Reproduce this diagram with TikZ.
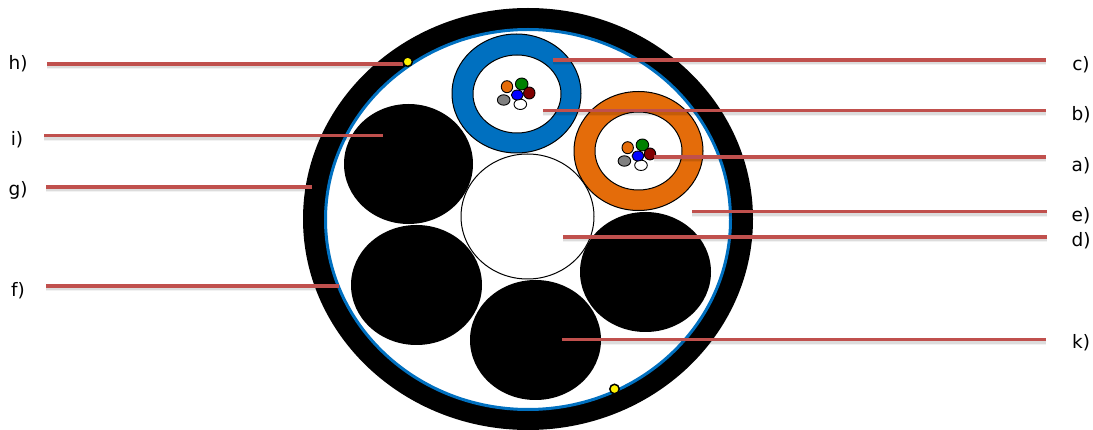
\documentclass[tikz,border=0pt]{standalone}
\usepackage{fontspec}
\setmainfont{DejaVu Sans}
\definecolor{cableblue}{RGB}{0,112,192}
\definecolor{tubeorange}{RGB}{228,108,10}
\definecolor{leader}{RGB}{192,80,77}
\definecolor{fibgreen}{RGB}{0,128,0}
\definecolor{fibred}{RGB}{128,0,0}
\tikzset{
  leaderline/.style={
    preaction={draw=black,opacity=.05,line width=6pt,transform canvas={yshift=-2.5pt}},
    preaction={draw=black,opacity=.09,line width=3.5pt,transform canvas={yshift=-2.5pt}},
    draw=leader,line width=3.6pt},
  lab/.style={font=\fontsize{18.5}{20}\selectfont,inner sep=0pt,text=black,anchor=center},
  fibre/.style={draw=black,line width=.9pt},
  tube/.style={draw=black,line width=1pt},
  marker/.style={fill=yellow,draw=black,line width=1.5pt}
}
\newcommand{\fibres}[2]{%
  \begin{scope}[shift={(#1,#2)}]
    \filldraw[fibre,fill=tubeorange] (507,86.7) ellipse [x radius=5.7,y radius=6];
    \filldraw[fibre,fill=fibgreen] (521.7,84) ellipse [x radius=6.3,y radius=6];
    \filldraw[fibre,fill=fibred] (529.3,93) ellipse [x radius=5.7,y radius=6];
    \filldraw[fibre,fill=gray] (503.7,100) ellipse [x radius=6.3,y radius=5.2];
    \filldraw[fibre,fill=white] (520.3,104.3) ellipse [x radius=6.3,y radius=5.2];
    \filldraw[fibre,fill=blue] (517.3,95) ellipse [x radius=6,y radius=5];
  \end{scope}}
\begin{document}
\begin{tikzpicture}[x=1pt,y=-1pt]
\useasboundingbox (0,0) rectangle (1093,430);
\begin{scope}
\clip (0,0) rectangle (1093,430);
\fill[black] (528,219) ellipse [x radius=225,y radius=211];
\filldraw[draw=cableblue,line width=3pt,fill=white] (528,219.5) ellipse [x radius=202.5,y radius=190];
\end{scope}
% blue tube
\filldraw[tube,fill=cableblue] (516.5,93.5) ellipse [x radius=64.5,y radius=59.5];
\filldraw[tube,fill=white] (517,94) ellipse [x radius=44,y radius=39];
\fibres{0}{0}
% orange tube
\filldraw[tube,fill=tubeorange] (638.5,151) ellipse [x radius=64.5,y radius=59.5];
\filldraw[tube,fill=white] (638.5,151) ellipse [x radius=43.5,y radius=39];
\fibres{120.7}{61}
% black elements
\fill[black] (408.5,164) ellipse [x radius=64.5,y radius=60];
\fill[black] (416.5,285) ellipse [x radius=65.5,y radius=60];
\fill[black] (535.5,340) ellipse [x radius=65.5,y radius=60];
\fill[black] (645.5,272) ellipse [x radius=65.5,y radius=60];
% centre
\filldraw[tube,fill=white] (527.5,216.5) ellipse [x radius=66.5,y radius=62.5];
% labels
\node[lab] (h) at (18,64) {h)};
\node[lab] (i) at (17,140) {i)};
\node[lab] (g) at (18,190) {g)};
\node[lab] (f) at (18,291) {f)};
\node[lab] (c) at (1081,65) {c)};
\node[lab] (b) at (1081,115) {b)};
\node[lab] (a) at (1081,166) {a)};
\node[lab] (e) at (1081,216) {e)};
\node[lab] (d) at (1081,241) {d)};
\node[lab] (k) at (1081,343) {k)};
% leader ends
\coordinate (hs) at (47,64); \coordinate (he) at (403,64);
\coordinate (is) at (44,135.5); \coordinate (ie) at (383,135.5);
\coordinate (gs) at (46,187); \coordinate (ge) at (312,187);
\coordinate (fs) at (46,286); \coordinate (fe) at (339,286);
\coordinate (cs) at (1046,60); \coordinate (ce) at (553,60);
\coordinate (bs) at (1046,110.5); \coordinate (be) at (543,110.5);
\coordinate (as) at (1046,157); \coordinate (ae) at (654,157);
\coordinate (es) at (1047,211.5); \coordinate (ee) at (692,211.5);
\coordinate (ds) at (1047,237); \coordinate (de) at (563,237);
\coordinate (ks) at (1046,339.5); \coordinate (ke) at (562,339.5);
\foreach \p in {h,i,g,f,c,b,a,e,d,k}{\path[leaderline] (\p s) -- (\p e);}
% yellow dots
\filldraw[marker] (407.7,61.7) circle [radius=4.7];
\filldraw[marker] (614.5,389) circle [radius=4.7];
\end{tikzpicture}
\end{document}
